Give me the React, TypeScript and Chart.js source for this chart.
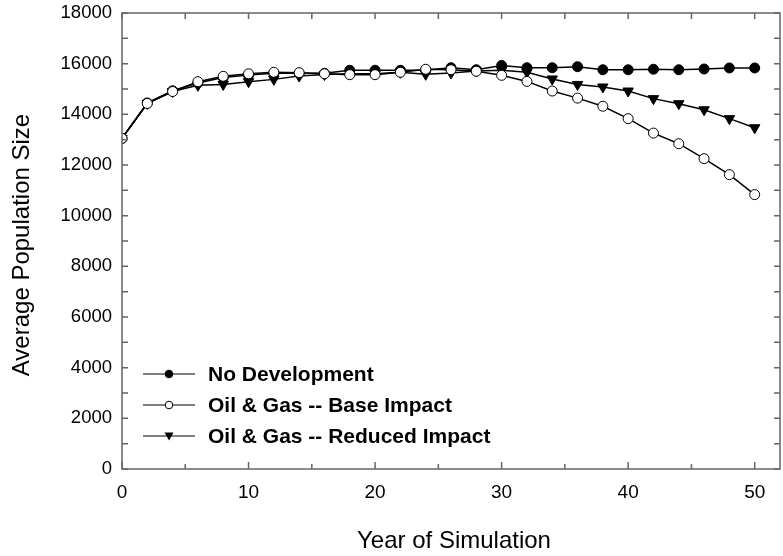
import React, { useEffect, useRef } from "react";
import { Chart, registerables } from "chart.js";

Chart.register(...registerables);

const years = [0, 2, 4, 6, 8, 10, 12, 14, 16, 18, 20, 22, 24, 26, 28, 30, 32, 34, 36, 38, 40, 42, 44, 46, 48, 50];
const noDevelopment = [13050, 14450, 14930, 15240, 15450, 15550, 15620, 15620, 15620, 15740, 15740, 15740, 15750, 15840, 15760, 15930, 15840, 15840, 15880, 15760, 15760, 15780, 15760, 15790, 15830, 15830];
const baseImpact = [13050, 14430, 14900, 15290, 15500, 15600, 15660, 15645, 15600, 15565, 15565, 15660, 15780, 15760, 15700, 15540, 15300, 14920, 14640, 14320, 13830, 13260, 12840, 12250, 11620, 10830];
const reducedImpact = [13050, 14430, 14900, 15145, 15180, 15290, 15380, 15510, 15570, 15600, 15600, 15660, 15580, 15630, 15710, 15740, 15660, 15395, 15180, 15080, 14920, 14620, 14420, 14180, 13830, 13470];
const xTickValues = [0, 5, 10, 15, 20, 25, 30, 35, 40, 45, 50];
const seriesLabels = ["No Development", "Oil & Gas -- Base Impact", "Oil & Gas -- Reduced Impact"];
const xTitle = "Year of Simulation";
const yTitle = "Average Population Size";

const FONT = "Arial, 'Liberation Sans', sans-serif";

const areaPlugin = {
  id: "areaPlugin",
  afterLayout(chart: any) {
    const x = chart.scales.x;
    const r = chart.width - 3;
    chart.chartArea.right = r;
    chart.chartArea.width = r - chart.chartArea.left;
    x.right = r;
    x.width = r - x.left;
    x.configure();
  },
};

const framePlugin = {
  id: "framePlugin",
  afterDraw(chart: any) {
    const { ctx, chartArea, scales } = chart;
    const { left, right, top, bottom } = chartArea;
    const xs = scales.x;
    const ys = scales.y;
    ctx.save();
    ctx.strokeStyle = "#666";
    ctx.lineWidth = 1.5;
    ctx.beginPath();
    for (const v of xTickValues) {
      const px = xs.getPixelForValue(v);
      const len = v % 10 === 0 ? 7 : 5;
      ctx.moveTo(px, bottom);
      ctx.lineTo(px, bottom - len);
      ctx.moveTo(px, top);
      ctx.lineTo(px, top + 6);
    }
    for (let v = 0; v <= 18000; v += 1000) {
      const py = ys.getPixelForValue(v);
      ctx.moveTo(left, py);
      ctx.lineTo(left + 6, py);
      ctx.moveTo(right, py);
      ctx.lineTo(right - 6, py);
    }
    ctx.stroke();
    ctx.strokeRect(left, top, right - left, bottom - top);

    ctx.fillStyle = "#000";
    ctx.font = `24px ${FONT}`;
    ctx.textAlign = "center";
    ctx.textBaseline = "alphabetic";
    ctx.fillText(xTitle, (left + right) / 2 + 3, 548);
    ctx.save();
    ctx.translate(29, (top + bottom) / 2 + 4);
    ctx.rotate(-Math.PI / 2);
    ctx.fillText(yTitle, 0, 0);
    ctx.restore();

    const rows = [
      { y: bottom - 95, style: "filled" },
      { y: bottom - 64, style: "open" },
      { y: bottom - 33, style: "tri" },
    ];
    const lx0 = left + 21;
    const lx1 = left + 73;
    const mx = left + 47;
    rows.forEach((r, i) => {
      ctx.strokeStyle = "#000";
      ctx.lineWidth = 1.2;
      ctx.beginPath();
      ctx.moveTo(lx0, r.y);
      ctx.lineTo(lx1, r.y);
      ctx.stroke();
      ctx.beginPath();
      if (r.style === "tri") {
        ctx.moveTo(mx - 4.5, r.y - 3.5);
        ctx.lineTo(mx + 4.5, r.y - 3.5);
        ctx.lineTo(mx, r.y + 4.5);
        ctx.closePath();
        ctx.fillStyle = "#000";
        ctx.fill();
      } else {
        ctx.arc(mx, r.y, 3.8, 0, Math.PI * 2);
        ctx.fillStyle = r.style === "filled" ? "#000" : "#fff";
        ctx.fill();
        ctx.lineWidth = 1;
        ctx.stroke();
      }
      ctx.fillStyle = "#000";
      ctx.font = `bold 21px ${FONT}`;
      ctx.textAlign = "left";
      ctx.textBaseline = "middle";
      ctx.fillText(seriesLabels[i], left + 86, r.y + 1);
    });
    ctx.restore();
  },
};

export default function App() {
  const ref = useRef<HTMLCanvasElement | null>(null);
  useEffect(() => {
    if (!ref.current) return;
    const toPts = (arr: number[]) => years.map((x, i) => ({ x, y: arr[i] }));
    const chart = new Chart(ref.current, {
      type: "line",
      data: {
        datasets: [
          {
            label: seriesLabels[0],
            data: toPts(noDevelopment),
            borderColor: "#000",
            backgroundColor: "#000",
            borderWidth: 1.5,
            pointStyle: "circle",
            pointRadius: 5,
            pointBorderWidth: 1,
            pointBorderColor: "#000",
            pointBackgroundColor: "#000",
            order: 2,
          },
          {
            label: seriesLabels[1],
            data: toPts(baseImpact),
            borderColor: "#000",
            backgroundColor: "#fff",
            borderWidth: 1.5,
            pointStyle: "circle",
            pointRadius: 5,
            pointBorderWidth: 1,
            pointBorderColor: "#000",
            pointBackgroundColor: "#fff",
            order: 0,
          },
          {
            label: seriesLabels[2],
            data: toPts(reducedImpact),
            borderColor: "#000",
            backgroundColor: "#000",
            borderWidth: 1.5,
            pointStyle: "triangle",
            pointRotation: 180,
            pointRadius: 6,
            pointBorderWidth: 1,
            pointBorderColor: "#000",
            pointBackgroundColor: "#000",
            order: 1,
          },
        ],
      },
      options: {
        responsive: false,
        animation: false,
        layout: { padding: { left: 0, right: 3, top: 13, bottom: 0 } },
        plugins: { legend: { display: false }, tooltip: { enabled: false } },
        scales: {
          x: {
            type: "linear",
            min: 0,
            max: 52,
            grid: { display: false, drawTicks: false },
            border: { display: false },
            afterBuildTicks: (s: any) => {
              s.ticks = xTickValues.map((value) => ({ value }));
            },
            ticks: {
              autoSkip: false,
              maxRotation: 0,
              padding: 12,
              color: "#000",
              font: { family: FONT, size: 19 },
              callback: (v: any) => (v % 10 === 0 ? String(v) : ""),
            },
            afterFit: (s: any) => {
              s.height = 87;
              s.paddingLeft = 0;
              s.paddingRight = 0;
            },
          },
          y: {
            type: "linear",
            min: 0,
            max: 18000,
            grid: { display: false, drawTicks: false },
            border: { display: false },
            ticks: {
              stepSize: 1000,
              autoSkip: false,
              padding: 10,
              color: "#000",
              font: { family: FONT, size: 18.5 },
              callback: (v: any) => (v % 2000 === 0 ? String(v) : ""),
            },
            afterFit: (s: any) => {
              s.width = 122;
              s.paddingTop = 0;
              s.paddingBottom = 0;
            },
          },
        },
      },
      plugins: [areaPlugin, framePlugin],
    });
    return () => chart.destroy();
  }, []);
  return (
    <div style={{ position: "fixed", left: 0, top: 0, width: 783, height: 556, background: "#fff" }}>
      <canvas ref={ref} width={783} height={556} />
    </div>
  );
}
